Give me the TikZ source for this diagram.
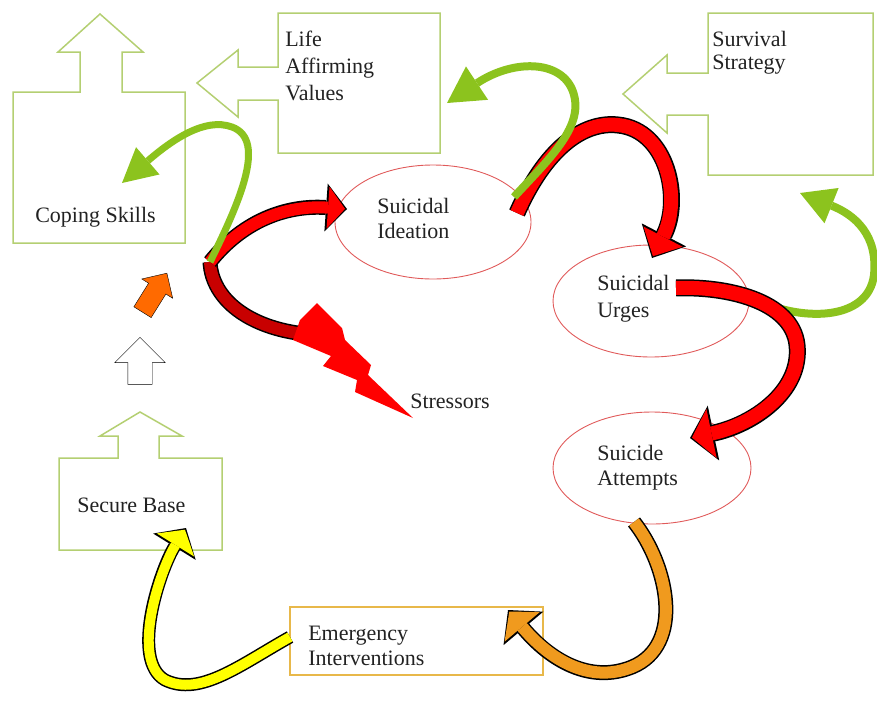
\documentclass[tikz,border=0pt]{standalone}
\usepackage{fontspec}
\setmainfont{Liberation Serif}
\usepackage{tikz}
\usetikzlibrary{calc, positioning, arrows.meta, shapes.arrows, shapes.geometric}

\definecolor{boxgreen}{HTML}{B4CF72}
\definecolor{leafgreen}{HTML}{8CC31E}
\definecolor{flame}{HTML}{FF0000}
\definecolor{ember}{HTML}{C80000}
\definecolor{rim}{HTML}{E05A5A}
\definecolor{amber}{HTML}{F09A1E}
\definecolor{lemon}{HTML}{FFFF00}
\definecolor{tangerine}{HTML}{FF6A00}
\definecolor{goldrim}{HTML}{E8B84A}
\definecolor{ink}{HTML}{222222}

% outlined ribbon arrow: colour, width, head length, head width, path
\newcommand{\ribbon}[5]{%
  \pgfmathsetmacro{\rbw}{#2+3}%
  \pgfmathsetmacro{\rbl}{#3+4}%
  \pgfmathsetmacro{\rbh}{#4+6}%
  \draw[draw=black, line width=\rbw pt, -{Triangle[length=\rbl pt, width=\rbh pt, line width=0pt]}] #5;
  \draw[draw=#1, line width=#2pt, shorten >=2pt, -{Triangle[length=#3pt, width=#4pt, line width=0pt]}] #5;}

\begin{document}
\begin{tikzpicture}[x=1pt, y=-1pt, semithick]
  \tikzstyle{callout}=[draw=boxgreen, line width=1.5pt, line join=miter]
  \tikzstyle{bubble}=[draw=rim, ellipse, line width=0.9pt, inner sep=0pt]
  % base of a text block = baseline of its last line
  \tikzstyle{lbl}=[align=left, inner sep=0pt, anchor=base west, text=ink, font=\fontsize{22}{26}\selectfont]
  \tikzstyle{vine}=[draw=leafgreen, line width=8pt]
  \useasboundingbox (0,0) rectangle (877,707);

  % boxes with their arrows
  \draw[callout] (13,243) |- (80,92) |- (58,52) -- (100,14) -- (143,52) -| (122,92) -| (185,243) -- cycle;
  \draw[callout] (440,13) -| (278,67) -- (238,67) -- (238,50) -- (197,83) -- (238,117) -- (238,100) -- (278,100) -- (278,153) -| (440,13) -- cycle;
  \draw[callout] (873,13) -| (708,73) -- (667,73) -- (667,55) -- (623,94) -- (667,133) -- (667,115) -- (708,115) -- (708,175) -| (873,13) -- cycle;
  \draw[callout] (59,550) |- (118,458) |- (100,436) -- (140,412) -- (182,436) -| (159,458) -| (222,550) -- cycle;
  \node[draw=goldrim, line width=1.2pt, minimum width=253pt, minimum height=68pt, inner sep=0pt] (emerg) at (416.5,641) {};

  \node[lbl] (coping) at (35,222) {Coping Skills};
  \node[lbl, font=\fontsize{22}{27}\selectfont] (life) at (285,100) {Life\\Affirming\\Values};
  \node[lbl, font=\fontsize{22}{23}\selectfont] (survival) at (712,69) {Survival\\Strategy};
  \node[lbl] (secure) at (77,512) {Secure Base};
  \node[lbl, font=\fontsize{22}{25}\selectfont] (emergtxt) at (308,665) {Emergency\\Interventions};

  % the three states
  \node[bubble, minimum width=196pt, minimum height=114pt] (ideation) at (433,222) {};
  \node[bubble, minimum width=196pt, minimum height=112pt] (urges) at (651,301) {};
  \node[bubble, minimum width=198pt, minimum height=112pt] (attempts) at (652,468) {};
  \node[lbl, font=\fontsize{22}{25}\selectfont] (ideationtxt) at (377,238) {Suicidal\\Ideation};
  \node[lbl, font=\fontsize{22}{27}\selectfont] (urgestxt) at (597,317) {Suicidal\\Urges};
  \node[lbl, font=\fontsize{22}{25}\selectfont] (attemptstxt) at (597,485) {Suicide\\Attempts};
  \node[lbl] (stressors) at (410,408) {Stressors};

  % small arrows
  \node[single arrow, draw=black, fill=white, thin, minimum height=47pt, inner xsep=0pt, inner ysep=12pt, single arrow head extend=13pt, rotate=90] (lift) at (140,367) {};
  \node[single arrow, draw=black, fill=tangerine, thin, minimum height=46pt, inner xsep=0pt, inner ysep=10pt, single arrow head extend=8pt, rotate=58] (push) at (152,297) {};

  % free ends
  \coordinate (hub) at (210,262);
  \coordinate (copingin) at (122,183);
  \coordinate (lifein) at (447,103);
  \coordinate (survin) at (800,193);
  \coordinate (ideaout) at (517,213);
  \coordinate (ideaup) at (514,197);
  \coordinate (urgesout) at (676,288);
  \coordinate (urgesup) at (752,298);
  \coordinate (attout) at (634,522);
  \coordinate (emergin) at (508,610);
  \coordinate (emergout) at (290,637);
  \coordinate (securein) at (186,528);
  \coordinate (boltin) at (305,334);

  % hub to stressors
  \draw[black, line width=15pt] (hub) .. controls (212,300) and (250,328) .. (boltin);
  \draw[ember, line width=12pt] (hub) .. controls (212,300) and (250,328) .. (boltin);
  \fill[flame] (300,320) -- (317,303) -- (342,328) -- (345,340) -- (371,365) -- (368,375) -- (413,418)
    -- (355,392) -- (357,380) -- (323,366) -- (331,356) -- (293,340) -- cycle;

  % the red path
  \ribbon{flame}{12}{17}{42}{(hub) .. controls (245,218) and (290,205) .. (347,209)}
  \ribbon{flame}{14}{22}{44}{(ideaout) .. controls (545,150) and (582,121) .. (618,125) .. controls (668,130) and (682,200) .. (652,258)}
  \draw[vine, -{Triangle[length=34pt, width=38pt, line width=0pt]}] (urgesup) .. controls (800,322) and (868,322) .. (874,275) .. controls (878,235) and (855,215) .. (survin);
  \ribbon{flame}{14}{20}{50}{(urgesout) .. controls (725,286) and (792,300) .. (797,345) .. controls (802,392) and (752,425) .. (690,438)}

  % green way out
  \draw[vine, line width=7pt, -{Triangle[length=34pt, width=36pt, line width=0pt]}] (hub) .. controls (238,205) and (268,140) .. (232,127) .. controls (205,117) and (172,140) .. (copingin);
  \draw[vine, -{Triangle[length=36pt, width=40pt, line width=0pt]}] (ideaup) .. controls (548,160) and (583,128) .. (574,95) .. controls (565,60) and (515,58) .. (lifein);

  % back to safety
  \ribbon{amber}{12}{20}{46}{(attout) .. controls (668,565) and (685,645) .. (632,667) .. controls (590,684) and (550,660) .. (emergin)}
  \ribbon{lemon}{10}{18}{44}{(emergout) .. controls (240,665) and (200,697) .. (165,680) .. controls (130,660) and (160,570) .. (securein)}
\end{tikzpicture}
\end{document}
